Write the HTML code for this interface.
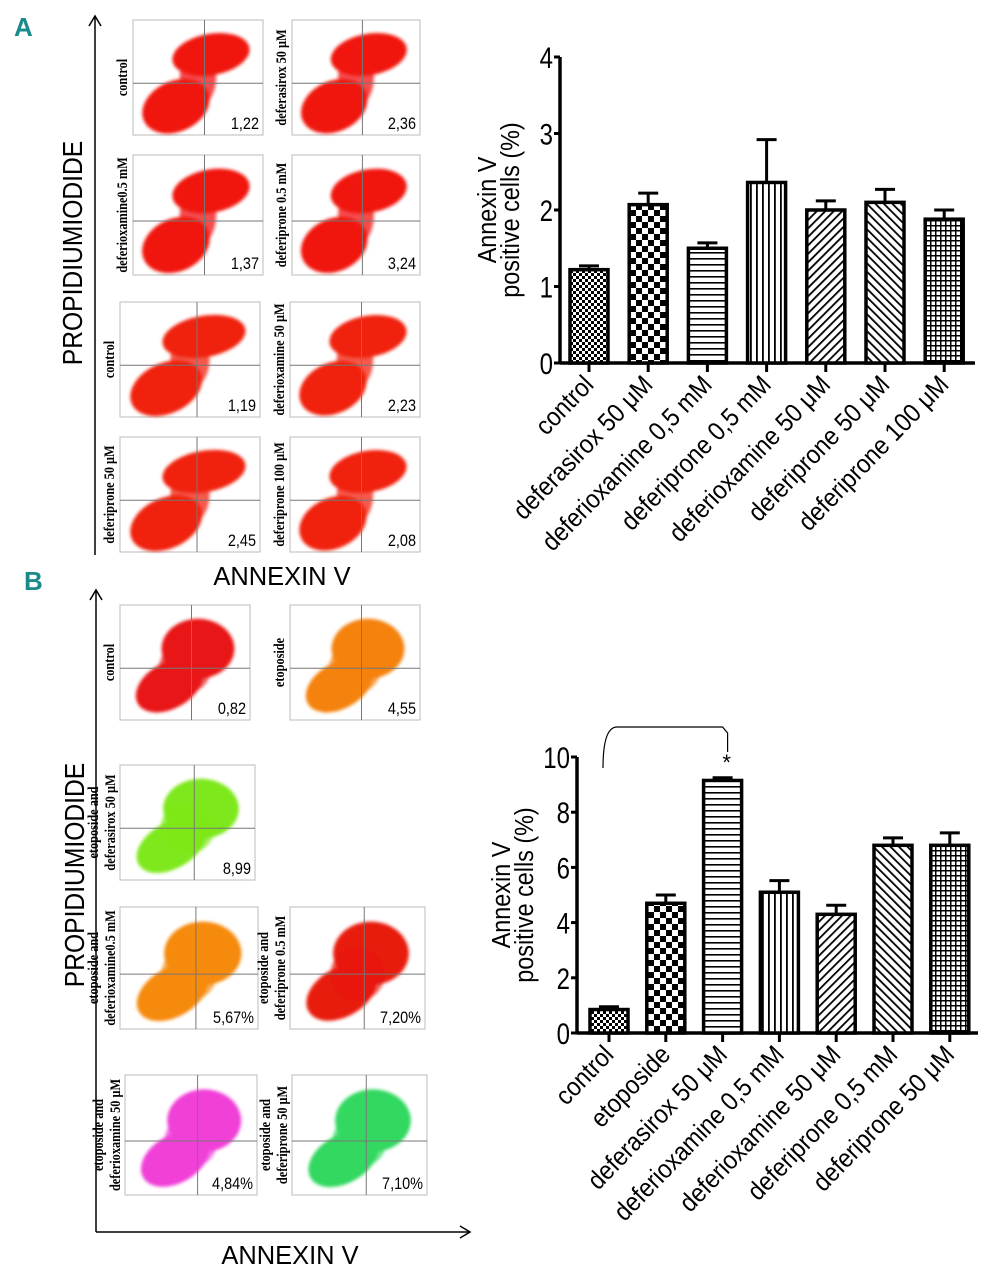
<!DOCTYPE html>
<html><head><meta charset="utf-8">
<style>
html,body{margin:0;padding:0;background:#fff;width:998px;height:1280px;overflow:hidden}
svg{display:block}
text{font-family:"Liberation Sans",sans-serif}
.lab{font-family:"Liberation Serif",serif;font-weight:bold;font-size:15px}
</style></head>
<body>
<svg id="fig" width="998" height="1280" viewBox="0 0 998 1280" xmlns="http://www.w3.org/2000/svg">
<defs>
 <pattern id="pFine" width="6" height="6" patternUnits="userSpaceOnUse"><rect width="6" height="6" fill="#fff"/><rect width="3" height="3" fill="#000"/><rect x="3" y="3" width="3" height="3" fill="#000"/></pattern>
 <pattern id="pCheck" width="12" height="12" patternUnits="userSpaceOnUse"><rect width="12" height="12" fill="#fff"/><rect width="6" height="6" fill="#000"/><rect x="6" y="6" width="6" height="6" fill="#000"/></pattern>
 <pattern id="pHoriz" width="6" height="6" patternUnits="userSpaceOnUse"><rect width="6" height="6" fill="#fff"/><rect width="6" height="1.6" fill="#000"/></pattern>
 <pattern id="pVert" width="6" height="6" patternUnits="userSpaceOnUse"><rect width="6" height="6" fill="#fff"/><rect width="1.8" height="6" fill="#000"/></pattern>
 <pattern id="pDiag1" width="6" height="6" patternUnits="userSpaceOnUse" patternTransform="rotate(45)"><rect width="6" height="6" fill="#fff"/><rect width="1.8" height="6" fill="#000"/></pattern>
 <pattern id="pDiag2" width="6" height="6" patternUnits="userSpaceOnUse" patternTransform="rotate(-45)"><rect width="6" height="6" fill="#fff"/><rect width="1.8" height="6" fill="#000"/></pattern>
 <pattern id="pGrid" width="5" height="5" patternUnits="userSpaceOnUse"><rect width="5" height="5" fill="#fff"/><rect width="5" height="1.5" fill="#000"/><rect width="1.5" height="5" fill="#000"/></pattern>
 <filter id="blur" x="-30%" y="-30%" width="160%" height="160%"><feGaussianBlur stdDeviation="1.5"/></filter>
</defs>

<text x="14" y="36" font-size="26" font-weight="bold" fill="#1a8a8a">A</text>
<text x="24" y="590" font-size="26" font-weight="bold" fill="#1a8a8a">B</text>

<g stroke="#000" stroke-width="1.5" fill="none">
 <line x1="95" y1="555" x2="95" y2="16"/>
 <polyline points="89,26 95,16 101,26"/>
</g>
<text transform="translate(82,253) rotate(-90) scale(0.88,1)" text-anchor="middle" font-size="28">PROPIDIUMIODIDE</text>
<text transform="translate(282,585) scale(0.98,1)" text-anchor="middle" font-size="26">ANNEXIN V</text>

<g stroke="#000" stroke-width="1.5" fill="none">
 <line x1="96" y1="1232" x2="96" y2="590"/>
 <polyline points="90,600 96,590 102,600"/>
 <line x1="96" y1="1232" x2="470" y2="1232"/>
 <polyline points="460,1226 470,1232 460,1238"/>
</g>
<text transform="translate(84,875) rotate(-90) scale(0.88,1)" text-anchor="middle" font-size="28">PROPIDIUMIODIDE</text>
<text transform="translate(290,1264) scale(0.98,1)" text-anchor="middle" font-size="26">ANNEXIN V</text>

<g id="flows"></g>
<g id="chartA"></g>
<g id="chartB"></g>
</svg>

<script>
// ---- Chart A data ----
const catsA = ["control","deferasirox  50 \u03bcM","deferioxamine 0,5 mM","deferiprone 0,5 mM","deferioxamine 50 \u03bcM","deferiprone 50 \u03bcM","deferiprone 100 \u03bcM"];
const valsA = [1.22, 2.07, 1.50, 2.36, 2.00, 2.10, 1.88];
const errsA = [0.05, 0.15, 0.07, 0.56, 0.12, 0.17, 0.12];
const ticksA = [0,1,2,3,4];
// ---- Chart B data ----
const catsB = ["control","etoposide","deferasirox 50 \u03bcM","deferioxamine 0,5 mM","deferioxamine 50 \u03bcM","deferiprone 0,5 mM","deferiprone 50 \u03bcM"];
const valsB = [0.85, 4.70, 9.15, 5.10, 4.30, 6.80, 6.80];
const errsB = [0.10, 0.30, 0.10, 0.42, 0.33, 0.27, 0.45];
const ticksB = [0,2,4,6,8,10];
const patterns = ["pFine","pCheck","pHoriz","pVert","pDiag1","pDiag2","pGrid"];

const NS="http://www.w3.org/2000/svg";
function mk(tag,attrs,parent){const e=document.createElementNS(NS,tag);for(const k in attrs)e.setAttribute(k,attrs[k]);parent.appendChild(e);return e;}

function drawChart(g, cats, vals, errs, ticks, cfg){
  const yScale=v=>cfg.y0-(v-cfg.vmin)/(cfg.vmax-cfg.vmin)*(cfg.y0-cfg.y1);
  const xScale=i=>cfg.xFirst+i*cfg.step;
  const ya=mk('line',{x1:cfg.xAxis,y1:cfg.y0,x2:cfg.xAxis,y2:cfg.y1,stroke:'#000','stroke-width':3.5},g);
  
  
  const xa=mk('line',{x1:cfg.xAxis,y1:cfg.y0,x2:cfg.xEnd,y2:cfg.y0,stroke:'#000','stroke-width':3.5},g);
  
  
  ticks.forEach(t=>{
    const y=yScale(t);
    mk('line',{x1:cfg.xAxis-6,y1:y,x2:cfg.xAxis,y2:y,stroke:'#000','stroke-width':3},g);
    const tl=mk('text',{transform:`translate(${cfg.xAxis-7},${y+11}) scale(0.8,1)`,'text-anchor':'end','font-size':30},g);
    tl.textContent=t;
    
    
  });
  const yt=mk('text',{transform:`translate(${cfg.titleX},${(cfg.y0+cfg.y1)/2}) rotate(-90) scale(0.9,1)`,'text-anchor':'middle','font-size':26},g);
  mk('tspan',{x:0,dy:0},yt).textContent='Annexin V';
  mk('tspan',{x:0,dy:23},yt).textContent='positive cells (%)';
  
  
  cats.forEach((c,i)=>{
    const cx=xScale(i), top=yScale(vals[i]), et=yScale(vals[i]+errs[i]);
    const el=mk('line',{x1:cx,y1:et,x2:cx,y2:top,stroke:'#000','stroke-width':3},g);
    
    
    mk('line',{x1:cx-10,y1:et,x2:cx+10,y2:et,stroke:'#000','stroke-width':3},g);
    const r=mk('rect',{x:cx-cfg.bw/2,y:top,width:cfg.bw,height:cfg.y0-top,fill:`url(#${patterns[i]})`,stroke:'#000','stroke-width':3.5},g);
    
    
    mk('line',{x1:cx,y1:cfg.y0,x2:cx,y2:cfg.y0+9,stroke:'#000','stroke-width':3},g);
    const lx=cx+6, ly=cfg.y0+23;
    const lt=mk('text',{'text-anchor':'end','font-size':26,transform:`translate(${lx},${ly}) rotate(-46) scale(0.9,1)`},g);
    lt.textContent=c;
    
    
  });
  return {xScale,yScale};
}

drawChart(document.getElementById('chartA'),catsA,valsA,errsA,ticksA,
 {y0:363,y1:57,vmin:0,vmax:4,xAxis:560,xEnd:975,xFirst:589,step:59.2,bw:38,titleX:496});
const sB=drawChart(document.getElementById('chartB'),catsB,valsB,errsB,ticksB,
 {y0:1033,y1:757,vmin:0,vmax:10,xAxis:577,xEnd:978,xFirst:609,step:56.8,bw:38,titleX:510});
const gB=document.getElementById('chartB');
const br=mk('path',{d:`M ${sB.xScale(0)-6} 768 Q ${sB.xScale(0)-6} 727 ${sB.xScale(0)+8} 727 L ${sB.xScale(2)} 727 L ${sB.xScale(2)+5} 733 L ${sB.xScale(2)+5} 752`,fill:'none',stroke:'#000','stroke-width':1.2},gB);


const st=mk('text',{x:sB.xScale(2)+4,y:770,'text-anchor':'middle','font-size':22},gB);
st.textContent='*';



// ---- flow cytometry panels ----
const flowLabels=["control","deferasirox 50 \u03bcM","deferioxamine0.5 mM","deferiprone 0.5 mM","control","deferioxamine 50 \u03bcM","deferiprone 50 \u03bcM","deferiprone 100 \u03bcM",
 "control","etoposide","etoposide and|deferasirox 50 \u03bcM","etoposide and|deferioxamine0.5 mM","etoposide and|deferiprone 0.5 mM","etoposide and|deferioxamine 50 \u03bcM","etoposide and|deferiprone 50 \u03bcM"];
const flowValues=["1,22","2,36","1,37","3,24","1,19","2,23","2,45","2,08","0,82","4,55","8,99","5,67%","7,20%","4,84%","7,10%"];
const flowColors=["#f0140a","#f0140a","#f0140a","#f0140a","#f0200a","#f0200a","#f0200a","#f0200a","#e81818","#f5820f","#7ee81a","#f58a10","#e81a0a","#f040d8","#30d860"];
const boxes=[[133,20,130,115],[292,20,128,115],[133,155,130,120],[292,155,128,120],[120,302,140,115],[290,302,130,115],[120,437,140,115],[290,437,130,115],
 [120,605,130,115],[290,605,130,115],[120,765,135,115],[120,907,138,122],[290,907,135,122],[125,1075,132,120],[292,1075,135,120]];
const g=document.getElementById('flows');
boxes.forEach((b,i)=>{
  const [x,y,w,h]=b;
  const pg=mk('g',{},g);
  
  
  mk('rect',{x:x,y:y,width:w,height:h,fill:'#fff',stroke:'#bbb','stroke-width':1},pg);
  const c=flowColors[i];
  const bp=mk('g',{filter:'url(#blur)'},pg);
  if(i<8){
    mk('ellipse',{cx:x+w*0.33,cy:y+h*0.75,rx:w*0.27,ry:h*0.22,fill:c,transform:`rotate(-25 ${x+w*0.33} ${y+h*0.75})`},bp);
    mk('ellipse',{cx:x+w*0.6,cy:y+h*0.3,rx:w*0.3,ry:h*0.18,fill:c,transform:`rotate(-10 ${x+w*0.6} ${y+h*0.3})`},bp);
    mk('ellipse',{cx:x+w*0.5,cy:y+h*0.5,rx:w*0.14,ry:h*0.25,fill:c,opacity:0.75},bp);
  } else {
    mk('ellipse',{cx:x+w*0.38,cy:y+h*0.7,rx:w*0.28,ry:h*0.2,fill:c,transform:`rotate(-30 ${x+w*0.38} ${y+h*0.7})`},bp);
    mk('ellipse',{cx:x+w*0.6,cy:y+h*0.38,rx:w*0.28,ry:h*0.26,fill:c},bp);
    mk('ellipse',{cx:x+w*0.5,cy:y+h*0.55,rx:w*0.2,ry:h*0.22,fill:c,opacity:0.7},bp);
  }
  mk('line',{x1:x,y1:y+h*0.55,x2:x+w,y2:y+h*0.55,stroke:'#777','stroke-width':1},pg);
  mk('line',{x1:x+w*0.55,y1:y,x2:x+w*0.55,y2:y+h,stroke:'#777','stroke-width':1},pg);
  const v=mk('text',{transform:`translate(${x+w-4},${y+h-6}) scale(0.85,1)`,'text-anchor':'end','font-size':17,fill:'#000'},pg);
  v.textContent=flowValues[i];
  
  
  const parts=flowLabels[i].split('|');
  const lx=x-6, ly=y+h/2;
  const lt=mk('text',{class:'lab',transform:`translate(${lx},${ly}) rotate(-90) scale(0.82,1)`,'text-anchor':'middle'},pg);
  parts.forEach((p,k)=>{mk('tspan',{x:0,dy:k===0?(parts.length>1?-16:0):17},lt).textContent=p;});
  
  
});
</script>
</body></html>
